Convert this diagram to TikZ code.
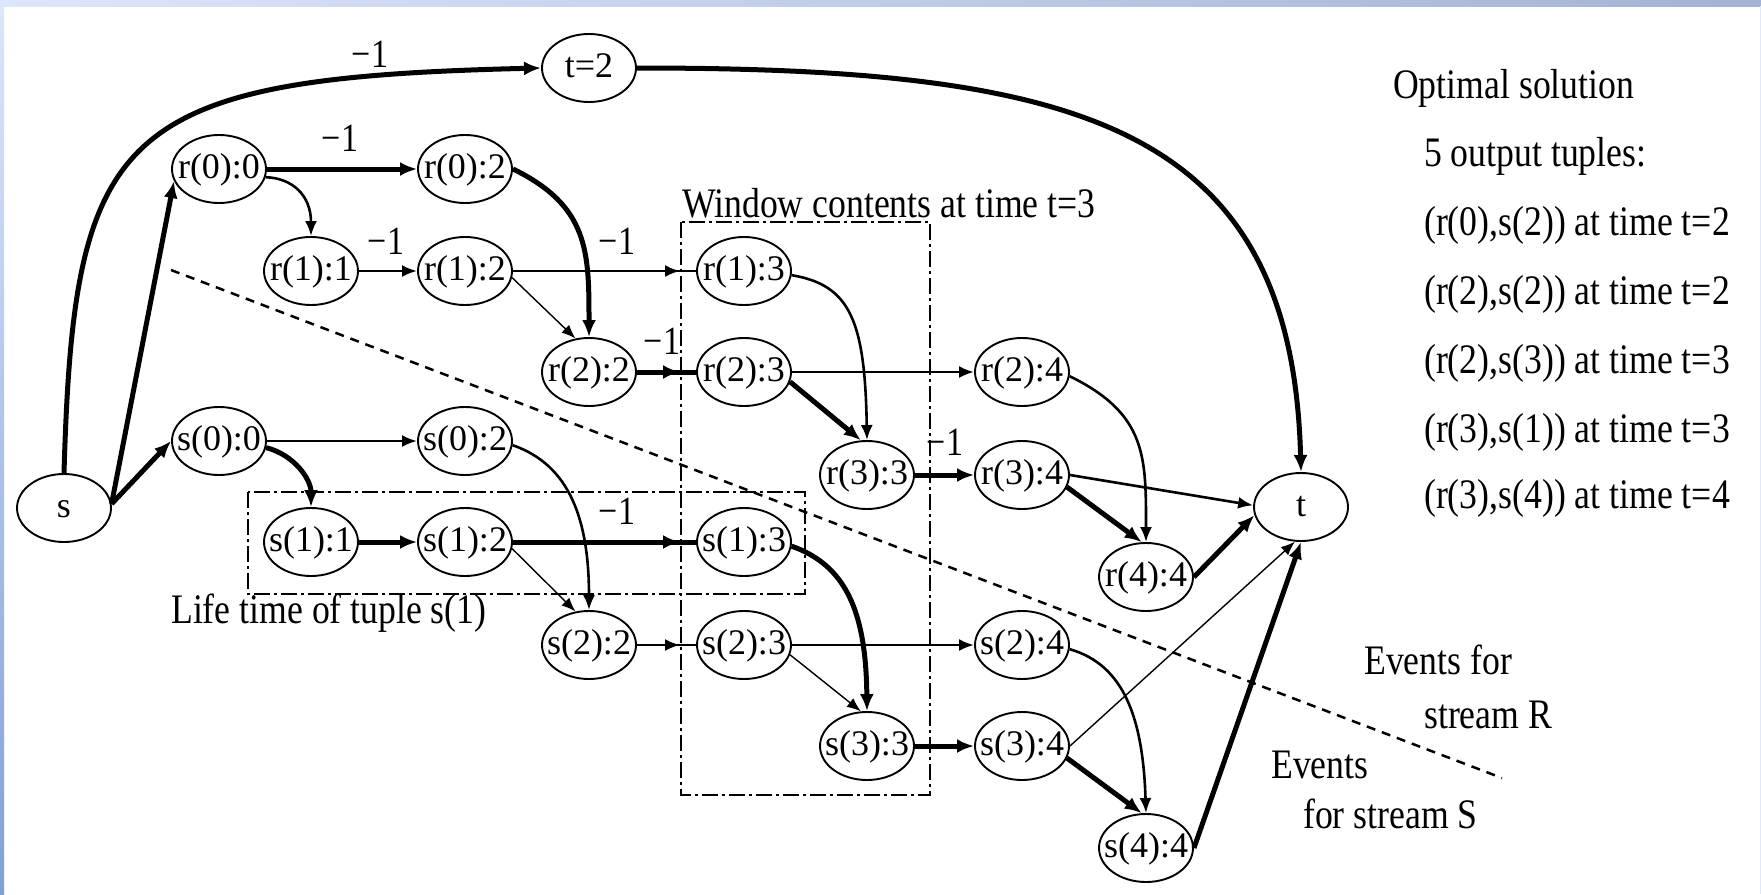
\documentclass[tikz,border=0pt]{standalone}
\usepackage{fontspec}
\setmainfont{Liberation Serif}
\usetikzlibrary{arrows.meta,shapes.geometric}
\definecolor{frameA}{HTML}{DCE6FC}
\definecolor{frameB}{HTML}{A3B3D3}
\definecolor{frameC}{HTML}{7FA0DA}
\newcommand\ndtxt[1]{\smash{\makebox[0pt]{\raisebox{-0.26em}{#1}}}}
\newcommand\sx[1]{\scalebox{0.85}[1]{#1}}
\begin{document}
\begin{tikzpicture}[x=1pt,y=-1pt,
  st/.style={ellipse,draw,line width=1.9pt,minimum width=94pt,minimum height=68pt,inner sep=0pt,font=\fontsize{36}{40}\selectfont},
  thk/.style={line width=5pt,-{Latex[length=17pt,width=14pt]}},
  thkl/.style={line width=5pt},
  med/.style={line width=2.6pt,-{Latex[length=15pt,width=12pt]}},
  medl/.style={line width=2.6pt},
  thn/.style={line width=1.4pt,-{Latex[length=14pt,width=11pt]}},
  lbl/.style={font=\fontsize{42}{46}\selectfont,inner sep=0pt,anchor=base west},
  mlab/.style={font=\fontsize{40}{44}\selectfont,inner sep=0pt},
  ddbox/.style={line width=2.3pt,dash pattern=on 16pt off 4pt on 3pt off 4pt},
  sep/.style={line width=2.5pt,dash pattern=on 9pt off 7pt},
]
\fill[white] (0,0) rectangle (1761,894);
\shade[left color=frameA,right color=frameB] (0,0) rectangle (1761,6);
\shade[top color=frameA,bottom color=frameC] (0,0) rectangle (4,894);
\fill[frameA] (1759.5,6) rectangle (1761,894);
\useasboundingbox (0,0) rectangle (1761,894);

% nodes
\node[st] (s) at (64,508) {\ndtxt{s}};
\node[st] (t2) at (589,68) {\ndtxt{t=2}};
\node[st] (t) at (1301,507) {\ndtxt{t}};
\node[st] (r00) at (219,169) {\ndtxt{r(0):0}};
\node[st] (r02) at (465,169) {\ndtxt{r(0):2}};
\node[st] (r11) at (311,271) {\ndtxt{r(1):1}};
\node[st] (r12) at (465,271) {\ndtxt{r(1):2}};
\node[st] (r13) at (744,271) {\ndtxt{r(1):3}};
\node[st] (r22) at (589,372) {\ndtxt{r(2):2}};
\node[st] (r23) at (744,372) {\ndtxt{r(2):3}};
\node[st] (r24) at (1022,372) {\ndtxt{r(2):4}};
\node[st] (r33) at (867,475) {\ndtxt{r(3):3}};
\node[st] (r34) at (1022,475) {\ndtxt{r(3):4}};
\node[st] (r44) at (1146,577) {\ndtxt{r(4):4}};
\node[st] (s00) at (219,441) {\ndtxt{s(0):0}};
\node[st] (s02) at (465,441) {\ndtxt{s(0):2}};
\node[st] (s11) at (311,542) {\ndtxt{s(1):1}};
\node[st] (s12) at (465,542) {\ndtxt{s(1):2}};
\node[st] (s13) at (744,542) {\ndtxt{s(1):3}};
\node[st] (s22) at (589,645) {\ndtxt{s(2):2}};
\node[st] (s23) at (744,645) {\ndtxt{s(2):3}};
\node[st] (s24) at (1022,645) {\ndtxt{s(2):4}};
\node[st] (s33) at (867,746) {\ndtxt{s(3):3}};
\node[st] (s34) at (1022,746) {\ndtxt{s(3):4}};
\node[st] (s44) at (1146,848) {\ndtxt{s(4):4}};

% separator between streams
\draw[sep] (171,270) -- (1502,778);

% edge labels
\node[mlab] (l1) at (370,54) {\sx{−1}};
\node[mlab] (l2) at (340,138) {\sx{−1}};
\node[mlab] (l3) at (386,241) {\sx{−1}};
\node[mlab] (l4) at (617,241) {\sx{−1}};
\node[mlab] (l5) at (662,341) {\sx{−1}};
\node[mlab] (l6) at (945,442) {\sx{−1}};
\node[mlab] (l7) at (617,511) {\sx{−1}};

% boxes
\draw[ddbox] (681,222) rectangle (930,795);
\draw[ddbox] (248,492) rectangle (805,594);

% edges R side
\draw[thk] (s.north) .. controls (74,130) and (115,78) .. (t2.west);
\draw[thk] (t2.east) .. controls (1080,68) and (1292,125) .. (t.north);
\draw[thk] (s.5) -- (r00.195);
\draw[thk] (s.5) -- (s00.west);
\draw[thk] (r00) -- (r02);
\draw[med] (r00.-10) .. controls (292,178) and (311,195) .. (r11.north);
\draw[med] (r11) -- (r12);
\draw[thk] (r02.east) .. controls (589,206) and (589,252) .. (r22.north);
\draw[medl] (r12) -- (r13);
\draw[med,shorten >=16pt] (r12) -- (r13);
\draw[thn] (r12.-8) -- (r22.112);
\draw[thkl] (r22) -- (r23);
\draw[thk,shorten >=16pt] (r22) -- (r23);
\draw[med] (r13.-5) .. controls (850,285) and (865,320) .. (r33.north);
\draw[thk] (r23.-12) -- (r33.100);
\draw[med] (r23) -- (r24);
\draw[thk] (r33) -- (r34);
\draw[med] (r24.-5) .. controls (1147,414) and (1146,457) .. (r44.north);
\draw[med] (r34.east) -- (t.178);
\draw[thk] (r34.-15) -- (r44.97);
\draw[thk] (r44.east) -- (t.190);

% edges S side
\draw[med] (s00) -- (s02);
\draw[thk] (s00.-8) .. controls (295,455) and (311,480) .. (s11.north);
\draw[med] (s02.-5) .. controls (570,465) and (589,520) .. (s22.north);
\draw[thk] (s11) -- (s12);
\draw[thkl] (s12) -- (s13);
\draw[thk,shorten >=16pt] (s12) -- (s13);
\draw[thn] (s12.-8) -- (s22.112);
\draw[medl] (s22) -- (s23);
\draw[med,shorten >=16pt] (s22) -- (s23);
\draw[thk] (s13.-5) .. controls (845,565) and (866,610) .. (s33.north);
\draw[thn] (s23.-12) -- (s33.100);
\draw[med] (s23) -- (s24);
\draw[thk] (s33) -- (s34);
\draw[med] (s24.-5) .. controls (1125,665) and (1143,720) .. (s44.north);
\draw[thk] (s34.-15) -- (s44.97);
\draw[thn] (s34.east) -- (t.-100);
\draw[thk] (s44.east) -- (t.south);

% texts
\node[lbl] (wc) at (682,217) {\sx{Window contents at time t=3}};
\node[lbl] (lt) at (171,623) {\sx{Life time of tuple s(1)}};
\node[lbl] (os) at (1393,98) {\sx{Optimal solution}};
\node[lbl] (ot) at (1424,166) {\sx{5 output tuples:}};
\node[lbl] (o1) at (1424,235) {\sx{(r(0),s(2)) at time t=2}};
\node[lbl] (o2) at (1424,304) {\sx{(r(2),s(2)) at time t=2}};
\node[lbl] (o3) at (1424,373) {\sx{(r(2),s(3)) at time t=3}};
\node[lbl] (o4) at (1424,442) {\sx{(r(3),s(1)) at time t=3}};
\node[lbl] (o5) at (1424,508) {\sx{(r(3),s(4)) at time t=4}};
\node[lbl] (e1) at (1364,674) {\sx{Events for}};
\node[lbl] (e2) at (1424,728) {\sx{stream R}};
\node[lbl] (e3) at (1271,778) {\sx{Events}};
\node[lbl] (e4) at (1303,828) {\sx{for stream S}};
\end{tikzpicture}
\end{document}
